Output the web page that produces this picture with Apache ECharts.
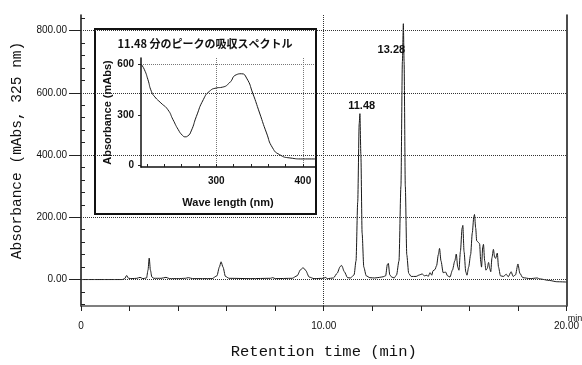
<!DOCTYPE html>
<html>
<head>
<meta charset="utf-8">
<script src="https://cdn.jsdelivr.net/npm/echarts@6/dist/echarts.min.js"></script>
<style>
html,body{margin:0;padding:0;background:#fff;}
#c{width:582px;height:365px;}
</style>
</head>
<body>
<div id="c"></div>
<script>
// ---- chromatogram (retention time in min, absorbance in mAbs) ----
const rtTimes = [0,1.7,1.8,1.88,1.96,2.1,2.3,2.43,2.55,2.7,2.76,2.81,2.86,2.92,3.0,3.3,3.5,3.65,4.0,4.3,4.42,4.6,5.4,5.6,5.7,5.77,5.85,5.95,6.1,7.0,7.8,7.9,8.0,8.7,8.9,9.05,9.15,9.25,9.4,9.6,10.0,10.06,10.15,10.4,10.55,10.68,10.74,10.85,10.98,11.1,11.25,11.33,11.4,11.46,11.49,11.53,11.58,11.65,11.75,11.9,12.1,12.3,12.45,12.55,12.62,12.66,12.72,12.8,12.9,13.0,13.1,13.18,13.24,13.28,13.31,13.36,13.42,13.5,13.6,13.8,13.95,14.05,14.15,14.25,14.3,14.38,14.45,14.5,14.58,14.65,14.72,14.77,14.83,14.92,15.02,15.1,15.2,15.3,15.4,15.46,15.52,15.57,15.63,15.7,15.73,15.78,15.85,15.9,15.97,16.05,16.12,16.18,16.21,16.26,16.3,16.36,16.42,16.47,16.5,16.55,16.58,16.63,16.68,16.73,16.79,16.84,16.88,16.93,16.99,17.04,17.08,17.15,17.2,17.28,17.4,17.52,17.6,17.72,17.8,17.9,18.0,18.08,18.2,18.5,18.8,18.9,19.3,19.6,20.0];
const rtAbs = [0,0,3,13,4,3,4,7,3,5,30,69,30,8,4,4,7,3,3,4,6,3,3,12,40,57,40,10,4,3,4,6,3,4,12,32,38,30,8,3,4,7,3,5,20,42,45,25,6,5,15,60,250,500,533,400,150,40,12,6,5,7,9,12,48,52,15,8,5,15,60,300,700,822,700,300,80,20,10,10,15,18,12,14,10,22,14,28,32,45,80,100,60,22,24,12,8,30,60,82,40,30,90,165,174,90,25,14,40,80,150,200,209,165,125,120,115,55,40,105,113,60,30,35,55,35,25,70,97,72,68,85,40,12,10,17,9,25,10,15,50,20,6,3,5,2,-3,-7,-8];
const peakTimes = [11.48, 13.28];
const peakHeights = [533, 822];
const yLabelValues = [0, 200, 400, 600, 800];
const yMinorTicks = [-80,-40,40,80,120,160,240,280,320,360,440,480,520,560,640,680,720,760,840];
const xLabelValues = [0, 10, 20];

// ---- inset: absorption spectrum of the 11.48 min peak ----
const wavelengths = [213.5,217,221,225,229,236,244,250,256,261,264,267,271,277,285,292,300,307,315,323,329,335,342,350,358,365,373,385,400,414];
const spectrumAbs = [600,570,511,441,408,372,332,272,213,178,170,175,205,292,392,441,461,466,491,540,546,520,431,312,193,104,64,44,38,38];
const insetYLabels = [0, 300, 600];
const insetXLabels = [300, 400];
const insetXTicks = [220,240,260,280,300,320,340,360,380,400];

const chromData = rtTimes.map((t, i) => [t, rtAbs[i]]);
const specData = wavelengths.map((w, i) => [w, spectrumAbs[i]]);

const monoFont = '"Liberation Mono", "DejaVu Sans Mono", monospace';
const sansFont = '"Liberation Sans", Arial, sans-serif';
const jpFont = '"Noto Sans CJK JP", "Liberation Sans", sans-serif';

const chart = echarts.init(document.getElementById('c'), null, {renderer: 'canvas'});
chart.setOption({
  animation: false,
  backgroundColor: '#fff',
  grid: [
    {left: 81, right: 15, top: 15, bottom: 54},
    {left: 141, right: 267, top: 58, bottom: 198, z: 10}
  ],
  xAxis: [
    {
      type: 'value', gridIndex: 0, min: 0, max: 20, interval: 2,
      name: 'Retention time (min)', nameLocation: 'middle', nameGap: 38,
      nameTextStyle: {fontFamily: monoFont, fontSize: 15.5, color: '#111'},
      axisLine: {show: true, onZero: false, lineStyle: {color: '#555', width: 1.5}},
      axisTick: {show: true, length: 5, lineStyle: {color: '#222', width: 1}},
      axisLabel: {
        margin: 15, fontFamily: sansFont, fontSize: 10, color: '#111',
        formatter: v => (xLabelValues.indexOf(v) < 0 ? '' : (v === 0 ? '0' : v.toFixed(2)))
      },
      splitLine: {show: false}
    },
    {
      type: 'value', gridIndex: 1, min: 213, max: 414, z: 10,
      name: 'Wave length (nm)', nameLocation: 'middle', nameGap: 30,
      nameTextStyle: {fontFamily: sansFont, fontSize: 11, fontWeight: 'bold', color: '#111'},
      axisLine: {show: true, onZero: false, lineStyle: {color: '#111', width: 1.5}},
      axisTick: {show: true, inside: true, length: 3, customValues: insetXTicks, lineStyle: {color: '#222'}},
      axisLabel: {customValues: insetXLabels, margin: 9, fontFamily: sansFont, fontSize: 10, fontWeight: 'bold', color: '#111'},
      splitLine: {show: false}
    }
  ],
  yAxis: [
    {
      type: 'value', gridIndex: 0, min: -85, max: 850,
      name: 'Absorbance (mAbs, 325 nm)', nameLocation: 'middle', nameGap: 56,
      nameTextStyle: {fontFamily: monoFont, fontSize: 14.5, color: '#111', padding: [0, 0, 0, 20]},
      axisLine: {show: true, onZero: false, lineStyle: {color: '#111', width: 1.5}},
      axisTick: {show: true, length: 12, customValues: yLabelValues, lineStyle: {color: '#222', width: 1}},
      axisLabel: {customValues: yLabelValues, margin: 14, fontFamily: sansFont, fontSize: 10, color: '#111',
        formatter: v => v.toFixed(2)},
      splitLine: {show: false}
    },
    {
      type: 'value', gridIndex: 0, min: -85, max: 850,
      axisLine: {show: false},
      axisTick: {show: true, length: 4, customValues: yMinorTicks, lineStyle: {color: '#222', width: 1}},
      axisLabel: {show: false},
      splitLine: {show: false}
    },
    {
      type: 'value', gridIndex: 0, min: -85, max: 850, position: 'right',
      axisLine: {show: true, onZero: false, lineStyle: {color: '#111', width: 1.5}},
      axisTick: {show: false}, axisLabel: {show: false}, splitLine: {show: false}
    },
    {
      type: 'value', gridIndex: 1, min: -10, max: 640, z: 10,
      name: 'Absorbance (mAbs)', nameLocation: 'middle', nameGap: 28,
      nameTextStyle: {fontFamily: sansFont, fontSize: 11, fontWeight: 'bold', color: '#111'},
      axisLine: {show: true, onZero: false, lineStyle: {color: '#111', width: 1.5}},
      axisTick: {show: true, length: 3, customValues: insetYLabels, lineStyle: {color: '#222'}},
      axisLabel: {customValues: insetYLabels, margin: 7, fontFamily: sansFont, fontSize: 10, fontWeight: 'bold', color: '#111'},
      splitLine: {show: false}
    }
  ],
  graphic: [
    {type: 'rect', z: 5, shape: {x: 95, y: 29, width: 221, height: 185},
     style: {fill: '#fff', stroke: '#111', lineWidth: 2}},
    {type: 'text', z: 12, x: 205, y: 44,
     style: {text: '11.48 分のピークの吸収スペクトル', fontFamily: jpFont, fontSize: 11, fontWeight: 'bold',
             fill: '#111', align: 'center', verticalAlign: 'middle'}},
    {type: 'text', z: 12, x: 575, y: 319,
     style: {text: 'min', fontFamily: sansFont, fontSize: 9, fill: '#111', align: 'center', verticalAlign: 'middle'}}
  ],
  series: [
    {
      type: 'line', xAxisIndex: 0, yAxisIndex: 0, data: chromData, z: 2,
      showSymbol: false, smooth: 0.25, smoothMonotone: 'x',
      lineStyle: {color: '#1a1a1a', width: 1},
      markLine: {
        silent: true, symbol: 'none', label: {show: false},
        lineStyle: {type: 'dotted', color: '#333', width: 1},
        data: yLabelValues.map(v => ({yAxis: v})).concat([{xAxis: 10}])
      },
      markPoint: {
        symbol: 'circle', symbolSize: 0,
        data: [
          {coord: [peakTimes[0], peakHeights[0]], value: peakTimes[0].toFixed(2),
           label: {offset: [2, -8]}},
          {coord: [peakTimes[1], peakHeights[1]], value: peakTimes[1].toFixed(2),
           label: {offset: [-12, 26]}}
        ],
        label: {show: true, position: 'inside', formatter: p => p.value,
                fontFamily: sansFont, fontSize: 11, fontWeight: 'bold', color: '#111'}
      }
    },
    {
      type: 'line', xAxisIndex: 1, yAxisIndex: 3, data: specData, z: 11,
      showSymbol: false, smooth: 0.6,
      lineStyle: {color: '#1a1a1a', width: 1},
      markLine: {
        silent: true, symbol: 'none', label: {show: false},
        lineStyle: {type: 'dotted', color: '#777', width: 1},
        data: [{yAxis: insetYLabels[2]}].concat(insetXLabels.map(v => ({xAxis: v})))
      }
    }
  ]
});
</script>
</body>
</html>
